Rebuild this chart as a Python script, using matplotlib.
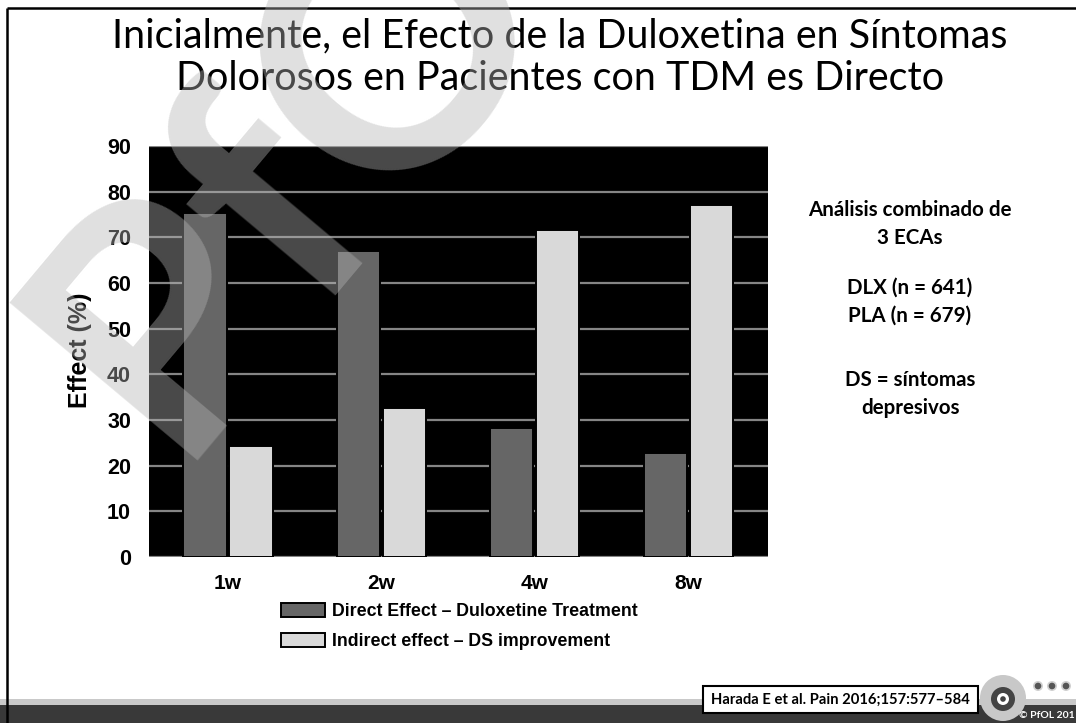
import matplotlib
matplotlib.use("Agg")
import matplotlib.pyplot as plt
from matplotlib.patches import Rectangle, Circle
import numpy as np

# ---------------- data ----------------
categories = ["1w", "2w", "4w", "8w"]
direct_effect = [75.4, 67.1, 28.2, 22.7]
indirect_effect = [24.2, 32.6, 71.7, 77.0]
y_ticks = [0, 10, 20, 30, 40, 50, 60, 70, 80, 90]
legend_labels = ["Direct Effect \u2013 Duloxetine Treatment",
                 "Indirect effect \u2013 DS improvement"]
title_lines = ["Inicialmente, el Efecto de la Duloxetina en S\u00edntomas",
               "Dolorosos en Pacientes con TDM es Directo"]
side_notes = ["An\u00e1lisis combinado de", "3 ECAs", "",
              "DLX (n = 641)", "PLA (n = 679)", "",
              "DS = s\u00edntomas", "depresivos"]
citation = "Harada E et al. Pain 2016;157:577\u2013584"
y_label = "Effect (%)"

W, H = 1076, 723
fig = plt.figure(figsize=(W / 100, H / 100), dpi=100)
fig.patch.set_facecolor("white")

def fx(px):
    return px / W

def fy(py):
    return 1 - py / H

# ---------------- chart ----------------
ax = fig.add_axes([fx(149), fy(557), fx(768) - fx(149), fy(146) - fy(557)])
ax.set_facecolor("black")
x = np.arange(len(categories))
bw = 0.282
off = 0.15
b1 = ax.bar(x - off, direct_effect, bw, color="#666666", edgecolor="black",
            linewidth=1.4, zorder=3, label=legend_labels[0])
b2 = ax.bar(x + off, indirect_effect, bw, color="#d9d9d9", edgecolor="black",
            linewidth=1.4, zorder=3, label=legend_labels[1])
ax.set_xlim(-0.515, 3.52)
ax.set_ylim(0, 90)
ax.set_yticks(y_ticks)
ax.set_yticklabels([str(v) for v in y_ticks], fontsize=15.5, fontweight="bold",
                   family="Liberation Sans")
ax.set_xticks(x)
ax.set_xticklabels(categories, fontsize=15, fontweight="bold",
                   family="Liberation Sans")
ax.tick_params(axis="y", length=0, pad=13)
ax.tick_params(axis="x", length=0, pad=12)
ax.yaxis.grid(True, color="#858585", linewidth=1.6, zorder=1)
ax.set_axisbelow(True)
for s in ax.spines.values():
    s.set_visible(False)

fig.text(fx(80), fy(350), y_label, rotation=90, ha="center", va="center",
         fontsize=18, fontweight="bold", family="Liberation Sans")

# legend
ax.legend(handles=[b1, b2], labels=legend_labels, loc="upper left",
          bbox_to_anchor=(fx(281), fy(603)), bbox_transform=fig.transFigure,
          frameon=False, borderpad=0, borderaxespad=0,
          handlelength=2.45, handleheight=0.85, handletextpad=0.4,
          labelspacing=0.7,
          prop={"family": "Liberation Sans", "weight": "bold", "size": 12.8})

# ---------------- title ----------------
renderer = fig.canvas.get_renderer()
t1 = fig.text(fx(560), fy(47), title_lines[0], ha="center", va="baseline",
              fontsize=26, family="Lato")
w1 = t1.get_window_extent(renderer).width
fs = 26 * 896 / w1
t1.set_fontsize(fs)
t2 = fig.text(fx(560), fy(90), title_lines[1], ha="center", va="baseline",
              fontsize=fs, family="Lato")

# ---------------- side notes ----------------
ys = [210, 238, None, 288, 316, None, 380, 408]
for line, yy in zip(side_notes, ys):
    if line:
        fig.text(fx(910), fy(yy), line, ha="center", va="center",
                 fontsize=14.8, fontweight="bold", family="Lato")

# ---------------- overlay decorations ----------------
ov = fig.add_axes([0, 0, 1, 1], zorder=5)
ov.set_xlim(0, W)
ov.set_ylim(H, 0)
ov.axis("off")
ov.patch.set_alpha(0)

# bottom band
ov.add_patch(Rectangle((0, 699), W, 6, color="#c9c9c9", lw=0))
ov.add_patch(Rectangle((0, 705), W, 18, color="#393939", lw=0))
# borders
ov.plot([7, 7], [8, H], color="black", lw=1.8, solid_capstyle="butt")
ov.plot([7, W], [8, 8], color="black", lw=1.8, solid_capstyle="butt")

# citation box
ov.add_patch(Rectangle((703, 686), 275, 27, facecolor="white",
                       edgecolor="black", lw=1.5))
ct = ov.text(840, 700, citation, ha="center", va="center", fontsize=11.5,
             fontweight="bold", family="Lato")
cw = ct.get_window_extent(renderer).width
ct.set_fontsize(11.5 * 258 / cw)

# logo
ov.add_patch(Circle((1003, 698), 23, color="#c8c8c8", lw=0))
ov.add_patch(Circle((1003, 699), 12, color="#444444", lw=0))
ov.add_patch(Circle((1003, 699), 6, color="white", lw=0))
ov.add_patch(Circle((1003, 699), 2.8, color="#444444", lw=0))
for dx in [1038, 1052, 1066]:
    ov.add_patch(Circle((dx, 686), 5, color="#d0d0d0", lw=0))
    ov.add_patch(Circle((dx, 686), 3.3, color="#555555", lw=0))
ov.text(1019, 716, "\u00a9 PfOL 201", ha="left", va="center", fontsize=7.5,
        color="white", family="Lato", fontweight="bold")

# watermark
ov.text(170, 460, "PfO", rotation=50, rotation_mode="anchor", ha="left",
        va="baseline", fontsize=245, family="Lato", fontweight="bold",
        color=(180 / 255, 180 / 255, 180 / 255), alpha=0.41)

fig.savefig("out.png", dpi=100, facecolor="white")
